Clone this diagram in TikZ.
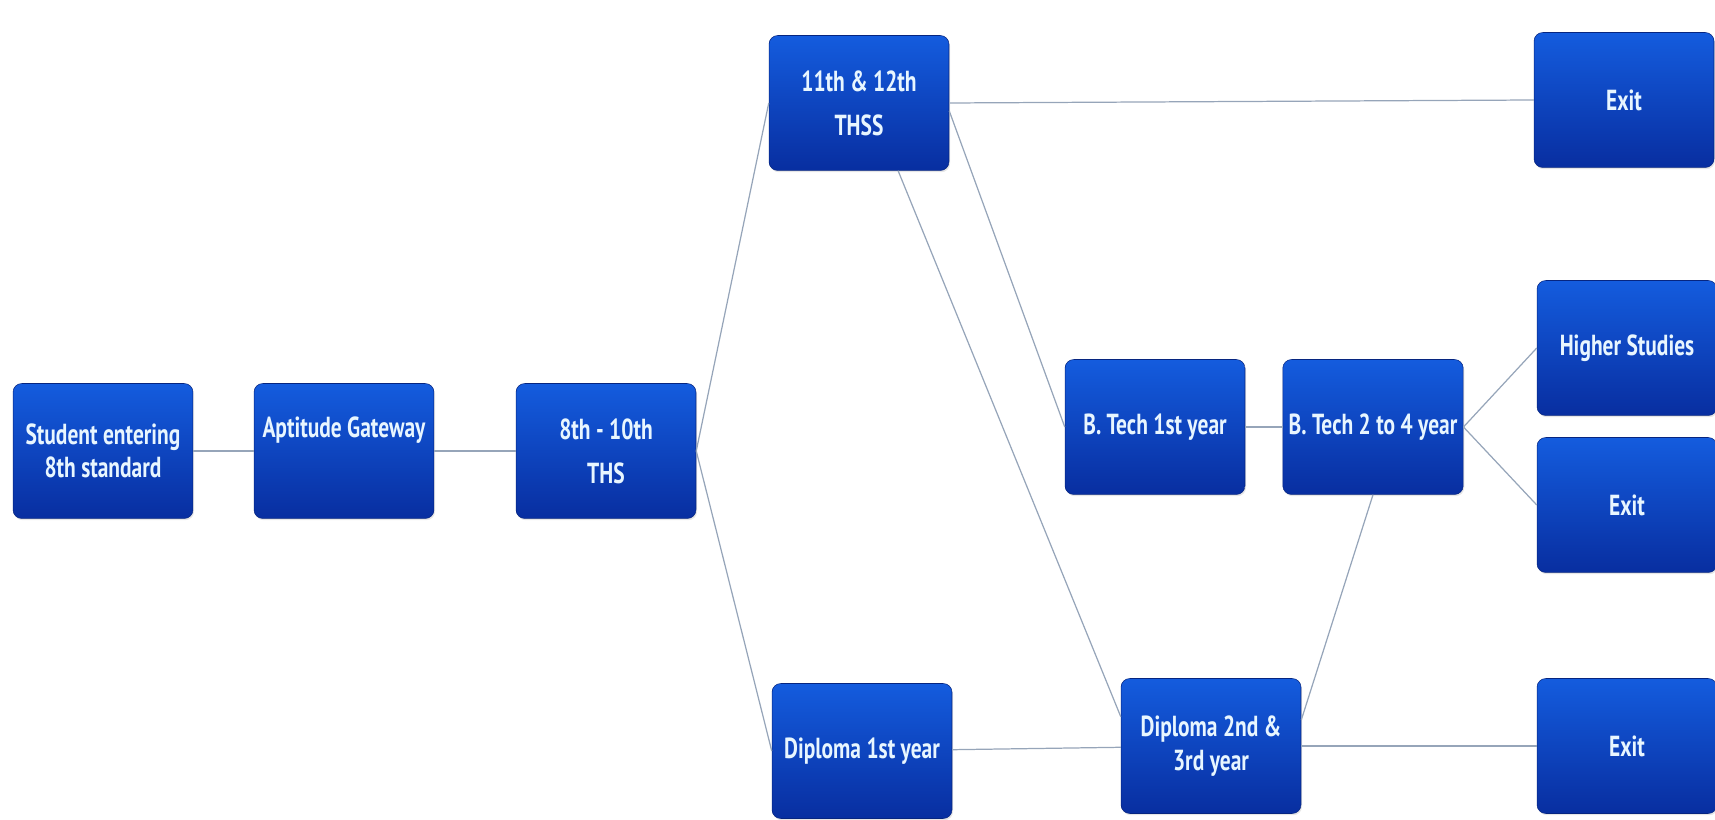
\documentclass[tikz,border=0pt]{standalone}
\usepackage{fontspec}
\setmainfont{PT Sans}[FakeStretch=0.74]
\usepackage{xcolor}
\usepackage{tikz}
\usetikzlibrary{positioning,shadows}

\definecolor{boxtop}{RGB}{20,92,222}
\definecolor{boxbot}{RGB}{8,46,160}
\definecolor{boxtxt}{RGB}{232,246,255}
\definecolor{linkc}{RGB}{150,165,185}

\begin{document}
\begin{tikzpicture}[
  x=0.02cm, y=-0.02cm,
  box/.style={rectangle, rounded corners=5pt, minimum width=3.6cm,
              minimum height=2.7cm, top color=boxtop, bottom color=boxbot,
              draw=boxbot!80!black, line width=0.3pt,
              drop shadow={opacity=0.2, shadow xshift=0.6pt, shadow yshift=-1pt},
              text=boxtxt, font=\fontsize{16.5}{19}\selectfont\bfseries, align=center},
  link/.style={draw=linkc, line width=0.7pt}
]
\useasboundingbox (0,0) rectangle (1715,820);

% Column 1 to 3
\node[box] (stud)  at (103,451)  {Student entering\\8th standard};
\node[box] (apt)   at (344,451)  {Aptitude Gateway\\[8pt]};
\node[box] (ths)   at (606,451)  {8th - 10th\\[6pt]THS};

% Column 4
\node[box] (thss)  at (859,103)  {11th \& 12th\\[6pt]THSS};
\node[box] (dipa)  at (862,751)  {Diploma 1st year};

% Column 5 and 6
\node[box] (btecha) at (1155,427) {B. Tech 1st year};
\node[box] (btechb) at (1373,427) {B. Tech 2 to 4 year};
\node[box] (dipb)   at (1211,746) {Diploma 2nd \&\\3rd year};

% Column 7
\node[box] (exita)  at (1624,100) {Exit};
\node[box] (higher) at (1627,348) {Higher Studies};
\node[box] (exitb)  at (1627,505) {Exit};
\node[box] (exitc)  at (1627,746) {Exit};

% Links
\draw[link] (stud) -- (apt);
\draw[link] (apt) -- (ths);
\draw[link] (ths.east) -- (thss.west);
\draw[link] (ths.east) -- (dipa.west);
\draw[link] (thss.east) -- (exita.west);
\draw[link] (thss.-5) -- (btecha.west);
\draw[link] (thss.300) -- (dipb.162);
\draw[link] (btecha) -- (btechb);
\draw[link] (btechb.east) -- (higher.west);
\draw[link] (btechb.east) -- (exitb.west);
\draw[link] (dipa) -- (dipb);
\draw[link] (dipb.16) -- (btechb.south);
\draw[link] (dipb.east) -- (exitc.west);
\end{tikzpicture}
\end{document}
